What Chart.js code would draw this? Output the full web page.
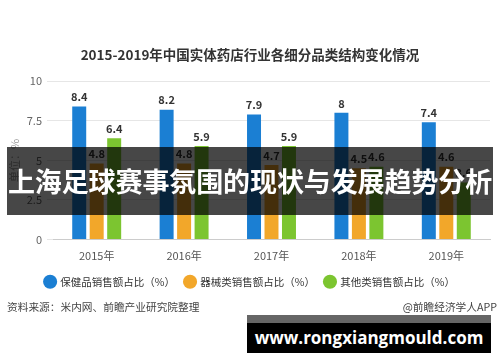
<!DOCTYPE html>
<html><head><meta charset="utf-8">
<script src="https://cdn.jsdelivr.net/npm/chart.js@4/dist/chart.umd.min.js"></script>
<style>
html,body{margin:0;padding:0;background:#fff;}
#wrap{position:relative;width:500px;height:362px;overflow:hidden;font-family:'Noto Sans CJK SC',sans-serif;}
#c{position:absolute;left:0;top:0;}
.src{position:absolute;top:299px;font-size:10.7px;color:#444;white-space:nowrap;}
#banner{position:absolute;left:7px;top:147px;width:486px;height:68px;background:rgba(0,0,0,0.72);color:#fff;font-weight:bold;font-size:27px;line-height:68px;text-align:center;white-space:nowrap;letter-spacing:-0.1px;}
#band{position:absolute;left:247px;top:315px;width:244px;height:8px;background:#666;}
#site{position:absolute;left:247px;top:323px;width:244px;height:30px;background:#000;color:#fff;font-family:'Open Sans','DejaVu Sans',sans-serif;font-weight:bold;font-size:17px;line-height:30px;text-align:center;white-space:nowrap;}
</style></head>
<body>
<div id="wrap">
<canvas id="c" width="500" height="362"></canvas>
<div class="src" style="left:7px;">资料来源：米内网、前瞻产业研究院整理</div>
<div class="src" style="right:3px;">@前瞻经济学人APP</div>
<div id="banner">上海足球赛事氛围的现状与发展趋势分析</div>
<div id="band"></div>
<div id="site">www.rongxiangmould.com</div>
</div>
<script>
const categories = ['2015年','2016年','2017年','2018年','2019年'];
const healthValues = [8.4, 8.2, 7.9, 8, 7.4];
const deviceValues = [4.8, 4.8, 4.7, 4.5, 4.6];
const otherValues = [6.4, 5.9, 5.9, 4.6, 3.6];
const seriesNames = ['保健品销售额占比（%）','器械类销售额占比（%）','其他类销售额占比（%）'];
const yTicks = [0, 2.5, 5, 7.5, 10];
const chartTitle = '2015-2019年中国实体药店行业各细分品类结构变化情况';
const yTitle = '单位：%';

const FONT = "'Noto Sans CJK SC', sans-serif";

const valueLabels = {
  id: 'valueLabels',
  afterDatasetsDraw(chart) {
    const ctx = chart.ctx;
    ctx.save();
    ctx.font = 'bold 11px ' + FONT;
    ctx.fillStyle = '#333';
    ctx.textAlign = 'center';
    ctx.textBaseline = 'bottom';
    chart.data.datasets.forEach((ds, i) => {
      chart.getDatasetMeta(i).data.forEach((bar, j) => {
        ctx.fillText(String(ds.data[j]), bar.x, bar.y - 4);
      });
    });
    ctx.restore();
  }
};

new Chart(document.getElementById('c'), {
  type: 'bar',
  data: {
    labels: categories,
    datasets: [
      {label: seriesNames[0], data: healthValues, backgroundColor: '#1b7fd3'},
      {label: seriesNames[1], data: deviceValues, backgroundColor: '#f2a72a'},
      {label: seriesNames[2], data: otherValues, backgroundColor: '#7cc530'}
    ]
  },
  options: {
    responsive: false,
    animation: false,
    layout: {padding: {top: 47, left: 10, right: 10, bottom: 65}},
    datasets: {bar: {categoryPercentage: 0.6, barPercentage: 0.8}},
    plugins: {
      title: {display: true, text: chartTitle, color: '#333', font: {family: FONT, size: 13.5, weight: 'bold'}, padding: {top: 0, bottom: 18}},
      legend: {
        position: 'bottom',
        labels: {usePointStyle: true, pointStyle: 'circle', boxWidth: 10, boxHeight: 10, padding: 10, color: '#333', font: {family: FONT, size: 10.5}}
      },
      tooltip: {enabled: false}
    },
    scales: {
      x: {
        grid: {display: false},
        border: {color: '#ccc'},
        afterFit(scale) { scale.height = 27; },
        ticks: {color: '#555', font: {family: FONT, size: 11}, padding: 2}
      },
      y: {
        min: 0, max: 10,
        afterBuildTicks(scale) { scale.ticks = yTicks.map(v => ({value: v})); },
        afterFit(scale) { scale.width = 43; },
        grid: {color: '#e6e6e6', tickLength: 6},
        border: {display: false},
        ticks: {color: '#666', font: {family: FONT, size: 11}, padding: 5},
        title: {display: true, text: yTitle, color: '#999', font: {family: FONT, size: 11}, padding: {top: -2, bottom: 0}}
      }
    }
  },
  plugins: [valueLabels]
});
</script>
</body></html>
